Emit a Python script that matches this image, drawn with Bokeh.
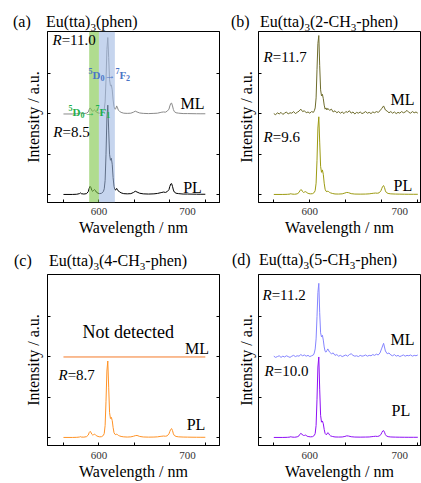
from bokeh.plotting import figure
from bokeh.models import Range1d, FixedTicker, LinearAxis, Label, BoxAnnotation, Div
from bokeh.layouts import column, row
from bokeh.embed import file_html
from bokeh.resources import INLINE
import numpy as np

# ---------------- data ----------------
# wavelength grid (nm) for the smooth spectra
WL = [560, 570, 575, 578, 579, 580, 583, 586, 588, 589,
      590, 591, 592, 593, 594, 595, 596, 597, 599, 601,
      603, 605, 606, 607, 608, 609, 610, 611, 612, 613,
      614, 615, 616, 617, 618, 619, 620, 621, 622, 623,
      625, 628, 632, 636, 639, 641, 643, 646, 650, 656,
      662, 666, 669, 671, 673, 675, 677, 679, 680, 681,
      682, 683, 684, 685, 687, 690, 695, 700, 705, 710,
      715, 720]

PL_A = [0.00, 0.00, 0.005, 0.02, 0.04, 0.02, 0.01, 0.02, 0.07, 0.15,
        0.20, 0.17, 0.10, 0.08, 0.10, 0.12, 0.10, 0.06, 0.03, 0.02,
        0.03, 0.07, 0.14, 0.35, 1.00, 1.90, 2.22, 1.60, 1.00, 0.85,
        0.90, 0.75, 0.42, 0.20, 0.12, 0.11, 0.15, 0.12, 0.08, 0.07,
        0.04, 0.02, 0.015, 0.02, 0.05, 0.08, 0.06, 0.03, 0.015, 0.01,
        0.015, 0.025, 0.04, 0.05, 0.06, 0.05, 0.07, 0.12, 0.20, 0.26,
        0.27, 0.20, 0.11, 0.06, 0.03, 0.02, 0.01, 0.01, 0.008, 0.006,
        0.005, 0.005]
ML_A = [0.00, 0.00, 0.005, 0.015, 0.03, 0.015, 0.01, 0.02, 0.05, 0.11,
        0.15, 0.13, 0.08, 0.07, 0.08, 0.10, 0.08, 0.05, 0.025, 0.02,
        0.03, 0.06, 0.12, 0.30, 0.85, 1.60, 1.90, 1.40, 0.85, 0.70,
        0.72, 0.60, 0.35, 0.18, 0.12, 0.13, 0.20, 0.15, 0.09, 0.07,
        0.04, 0.02, 0.015, 0.02, 0.045, 0.07, 0.05, 0.025, 0.015, 0.01,
        0.015, 0.02, 0.035, 0.045, 0.05, 0.045, 0.07, 0.12, 0.20, 0.26,
        0.27, 0.20, 0.11, 0.06, 0.03, 0.02, 0.01, 0.01, 0.008, 0.006,
        0.005, 0.005]
PL_B = [0.00, 0.00, 0.003, 0.01, 0.02, 0.01, 0.005, 0.015, 0.05, 0.09,
        0.12, 0.11, 0.07, 0.05, 0.06, 0.07, 0.06, 0.04, 0.02, 0.015,
        0.02, 0.05, 0.10, 0.28, 0.85, 1.65, 1.93, 1.30, 0.70, 0.55,
        0.61, 0.50, 0.28, 0.13, 0.08, 0.07, 0.08, 0.07, 0.05, 0.04,
        0.025, 0.012, 0.01, 0.015, 0.035, 0.05, 0.045, 0.02, 0.01, 0.008,
        0.01, 0.015, 0.025, 0.03, 0.035, 0.03, 0.04, 0.09, 0.15, 0.20,
        0.22, 0.17, 0.09, 0.05, 0.025, 0.015, 0.01, 0.008, 0.006, 0.005,
        0.004, 0.004]
PL_C = [0.00, 0.00, 0.003, 0.01, 0.02, 0.01, 0.008, 0.02, 0.06, 0.12,
        0.15, 0.13, 0.08, 0.06, 0.07, 0.08, 0.07, 0.045, 0.025, 0.015,
        0.02, 0.05, 0.10, 0.30, 0.90, 1.65, 1.90, 1.25, 0.62, 0.47,
        0.50, 0.42, 0.25, 0.12, 0.08, 0.07, 0.08, 0.07, 0.05, 0.04,
        0.025, 0.015, 0.01, 0.015, 0.03, 0.045, 0.05, 0.025, 0.012, 0.008,
        0.01, 0.015, 0.025, 0.03, 0.035, 0.03, 0.04, 0.09, 0.15, 0.20,
        0.22, 0.17, 0.09, 0.05, 0.025, 0.015, 0.01, 0.008, 0.006, 0.005,
        0.004, 0.004]
PL_D = [0.00, 0.00, 0.003, 0.01, 0.02, 0.01, 0.005, 0.015, 0.04, 0.08,
        0.10, 0.09, 0.06, 0.05, 0.05, 0.06, 0.05, 0.03, 0.02, 0.015,
        0.02, 0.05, 0.10, 0.30, 0.95, 1.75, 2.00, 1.20, 0.55, 0.38,
        0.41, 0.34, 0.20, 0.10, 0.07, 0.08, 0.12, 0.10, 0.06, 0.04,
        0.025, 0.012, 0.01, 0.012, 0.025, 0.04, 0.035, 0.018, 0.01, 0.008,
        0.01, 0.012, 0.02, 0.025, 0.03, 0.025, 0.035, 0.07, 0.12, 0.16,
        0.17, 0.13, 0.07, 0.04, 0.02, 0.012, 0.008, 0.006, 0.005, 0.004,
        0.004, 0.004]

# wavelength grid (nm) for the noisy ML spectra
WN = [560, 562, 564, 566, 568, 570, 572, 574, 576, 578, 580, 582, 584, 586, 588,
      590, 592, 594, 596, 598, 600, 602, 604,
      605, 606, 607, 608, 609, 610, 611, 612, 613, 614, 615, 616, 617, 618, 619, 620,
      622, 624, 626, 628, 630, 632, 634, 636, 638, 640,
      642, 644, 646, 648, 650, 652, 654, 656, 658, 660,
      662, 664, 666, 668, 670, 672, 674, 676, 678, 680,
      682, 684, 686, 688, 690, 692, 694, 696, 698, 700,
      702, 704, 706, 708, 710, 712, 714, 716, 718, 720]
ML_B = [0.01, -0.02, 0.03, 0.00, 0.04, -0.01, 0.02, 0.05, 0.00, 0.03, 0.02, 0.06, 0.01, 0.04, 0.07,
        0.12, 0.06, 0.08, 0.03, 0.05, 0.02, 0.06, 0.04,
        0.08, 0.15, 0.40, 1.10, 1.75, 1.95, 1.20, 0.60, 0.45, 0.49, 0.38, 0.22, 0.12, 0.15, 0.10, 0.14,
        0.09, 0.12, 0.05, 0.08, 0.03, 0.06, 0.02, 0.05, 0.01, 0.06,
        0.04, 0.08, 0.02, 0.05, 0.00, 0.04, 0.02, 0.05, 0.01, 0.03,
        0.06, 0.02, 0.04, 0.01, 0.05, 0.03, 0.06, 0.04, 0.08, 0.14,
        0.20, 0.10, 0.07, 0.03, 0.06, 0.02, 0.05, 0.01, 0.04, 0.02,
        0.06, 0.03, 0.05, 0.09, 0.04, 0.02, 0.06, 0.03, 0.05, 0.02]
ML_D = [0.02, -0.01, 0.01, 0.03, -0.01, 0.02, 0.00, 0.03, 0.01, -0.01, 0.02, 0.04, 0.01, 0.03, 0.02,
        0.06, 0.03, 0.05, 0.02, 0.04, 0.01, 0.03, 0.05,
        0.10, 0.20, 0.45, 1.00, 1.60, 1.83, 1.10, 0.60, 0.50, 0.54, 0.42, 0.25, 0.14, 0.12, 0.16, 0.20,
        0.12, 0.08, 0.10, 0.04, 0.06, 0.02, 0.04, 0.01, 0.03, 0.05,
        0.02, 0.06, 0.08, 0.04, 0.02, 0.03, 0.01, 0.04, 0.02, 0.03,
        0.05, 0.02, 0.04, 0.03, 0.06, 0.04, 0.07, 0.05, 0.10, 0.22,
        0.34, 0.15, 0.08, 0.10, 0.05, 0.03, 0.06, 0.02, 0.04, 0.01,
        0.03, 0.05, 0.02, 0.04, 0.03, 0.05, 0.02, 0.04, 0.03, 0.05]
# (c) ML: not detected -> flat line
WL_C_ML = [560, 720]
ML_C = [0.0, 0.0]

ML_OFFSET = 2.0
BAND_F1 = [589, 600]   # 5D0 -> 7F1
BAND_F2 = [600, 618]   # 5D0 -> 7F2

X_LABELED = [600, 700]
X_TICKS = [560, 600, 640, 680, 720]
Y_TICKS = [0, 1, 2, 3]

LETTERS = ["(a)", "(b)", "(c)", "(d)"]
LIGANDS = [("(phen)", None, None), ("(2-CH", "3", "-phen)"),
           ("(4-CH", "3", "-phen)"), ("(5-CH", "3", "-phen)")]
R_VALUES = {"a": ("11.0", "8.5"), "b": ("11.7", "9.6"), "c": (None, "8.7"), "d": ("11.2", "10.0")}

FONT = "Liberation Serif"

# ---------------- text helpers ----------------
W_REG = {'(': .333, ')': .333, 'a': .444, 'c': .444, 'd': .5, 'e': .444, 'h': .5, 'n': .5,
         'p': .5, 't': .278, 'u': .5, 'E': .611, 'C': .667, 'H': .722, '-': .333, '=': .564,
         '.': .25, ' ': .25, 'R': .611, 'D': .722, 'F': .611, '\u2192': 1.0}


def twidth(t, size):
    return sum(W_REG.get(ch, 0.5) for ch in t) * size


def rich(p, x, y, pieces, xo=0.0, yo=0.0, color="black"):
    cx = xo
    for t, sz, dy, st in pieces:
        p.add_layout(Label(x=x, y=y, x_offset=cx, y_offset=yo + dy, text=t,
                           text_font=FONT, text_font_size=f"{sz}px", text_font_style=st,
                           text_color=color, text_baseline="alphabetic", text_align="left"))
        cx += twidth(t, sz)


def txt(p, x, y, t, size=16, color="black", style="normal"):
    p.add_layout(Label(x=x, y=y, text=t, text_font=FONT, text_font_size=f"{size}px",
                       text_font_style=style, text_color=color, text_baseline="alphabetic",
                       text_align="left"))


def rlabel(p, x, y, val):
    rich(p, x, y, [("R", 15, 0, "italic"), ("=" + val, 15, 0, "normal")])


def title_div(idx, width, height, letter_left, title_left, top):
    pre, sub, post = LIGANDS[idx]
    sub_html = '<span style="font-size:11px;position:relative;top:4px;">{}</span>'
    body = "Eu(tta)" + sub_html.format("3") + pre
    if sub is not None:
        body += sub_html.format(sub) + post
    html = (
        f'<div style="position:relative;width:{width}px;height:{height}px;'
        f'font-family:\'Liberation Serif\';font-size:16px;line-height:16px;color:black;'
        f'white-space:nowrap;">'
        f'<span style="position:absolute;left:{letter_left}px;top:{top}px;">{LETTERS[idx]}</span>'
        f'<span style="position:absolute;left:{title_left}px;top:{top}px;">{body}</span>'
        f'</div>'
    )
    return Div(text=html, width=width, height=height, margin=(0, 0, 0, 0))


# ---------------- figures ----------------
FH = 171
YR = (-0.2, 4.05)


def make_fig(xr, left, right, top, bottom, fw, right_axis, ylab_standoff, xlab_standoff):
    p = figure(frame_width=fw, frame_height=FH, title=None,
               x_range=Range1d(*xr), y_range=Range1d(*YR),
               toolbar_location=None, output_backend="svg",
               min_border_left=left, min_border_right=right,
               min_border_top=top, min_border_bottom=bottom)
    p.margin = (0, 0, 0, 0)
    p.grid.visible = False
    p.outline_line_color = "black"
    p.outline_line_alpha = 1.0
    p.outline_line_width = 1
    p.background_fill_color = "white"
    p.border_fill_color = "white"

    xa = p.xaxis[0]
    xa.ticker = FixedTicker(ticks=X_LABELED, minor_ticks=X_TICKS)
    xa.major_tick_line_color = None
    xa.major_tick_in = 0
    xa.major_tick_out = 0
    xa.minor_tick_in = 3
    xa.minor_tick_out = 0
    xa.minor_tick_line_color = "black"
    xa.axis_line_color = "black"
    xa.major_label_text_font = FONT
    xa.major_label_text_font_size = "11px"
    xa.major_label_text_color = "#333333"
    xa.major_label_standoff = xlab_standoff
    xa.axis_label = "Wavelength / nm"
    xa.axis_label_text_font = FONT
    xa.axis_label_text_font_size = "16px"
    xa.axis_label_text_font_style = "normal"
    xa.axis_label_text_color = "black"
    xa.axis_label_standoff = 1

    ya = p.yaxis[0]
    ya.ticker = FixedTicker(ticks=[], minor_ticks=Y_TICKS)
    ya.major_tick_line_color = None
    ya.major_tick_in = 0
    ya.major_tick_out = 0
    ya.minor_tick_in = 3
    ya.minor_tick_out = 0
    ya.minor_tick_line_color = "black"
    ya.axis_line_color = "black"
    ya.major_label_standoff = 0
    ya.axis_label = "Intensity / a.u."
    ya.axis_label_text_font = FONT
    ya.axis_label_text_font_size = "16px"
    ya.axis_label_text_font_style = "normal"
    ya.axis_label_text_color = "black"
    ya.axis_label_standoff = ylab_standoff

    if right_axis:
        ra = LinearAxis(ticker=FixedTicker(ticks=[], minor_ticks=Y_TICKS),
                        major_tick_line_color=None, major_tick_in=0, major_tick_out=0,
                        minor_tick_in=3, minor_tick_out=0,
                        minor_tick_line_color="black", axis_line_color="black",
                        major_label_standoff=0)
        p.add_layout(ra, "right")
    return p


XL = (542, 736)
XR = (543, 723)

W1 = 229   # left column width  (47 + 172 + 10)
W2 = 192   # right column width (29 + 162 + 1)

pa = make_fig(XL, 47, 10, 1, 36, 172, True, 6, 5)
pb = make_fig(XR, 29, 1, 1, 36, 162, False, 4, 5)
pc = make_fig(XL, 47, 10, 5, 37, 172, True, 6, 6)
pd = make_fig(XR, 29, 1, 5, 37, 162, False, 4, 6)

da = title_div(0, W1, 30, 13, 46, 14)
db = title_div(1, W2, 30, 2, 31, 14)
dc = title_div(2, W1, 31, 14, 49, 15)
dd = title_div(3, W2, 31, 3, 30, 14)

wl = np.array(WL)
wn = np.array(WN)

# spectra
pa.line(wl, np.array(ML_A) + ML_OFFSET, line_color="#8a8a8a", line_width=1)
pa.line(wl, np.array(PL_A), line_color="black", line_width=1)
pb.line(wn, np.array(ML_B) + ML_OFFSET, line_color="#6e6c2c", line_width=1)
pb.line(wl, np.array(PL_B), line_color="#9d9b12", line_width=1)
pc.line(np.array(WL_C_ML), np.array(ML_C) + ML_OFFSET, line_color="#f47a28", line_width=1)
pc.line(wl, np.array(PL_C), line_color="#ff9326", line_width=1)
pd.line(wn, np.array(ML_D) + ML_OFFSET, line_color="#8585ff", line_width=1)
pd.line(wl, np.array(PL_D), line_color="#8f10f5", line_width=1)

# (a) shaded transition bands (drawn over the traces, semi-transparent)
pa.add_layout(BoxAnnotation(left=BAND_F1[0], right=BAND_F1[1], fill_color="#7cc544",
                            fill_alpha=0.6, line_color=None))
pa.add_layout(BoxAnnotation(left=BAND_F2[0], right=BAND_F2[1], fill_color="#a0b9e3",
                            fill_alpha=0.6, line_color=None))

# in-plot labels
rlabel(pa, 547.6, 3.83, R_VALUES["a"][0])
rlabel(pa, 548.5, 1.56, R_VALUES["a"][1])
txt(pa, 692, 2.27, "ML")
txt(pa, 695, 0.17, "PL")
rich(pa, 588.2, 2.96, [("5", 8, 4, "bold"), ("D", 11, 0, "bold"), ("0", 8, -3, "bold"),
                        ("\u2192", 11, 0, "bold"), ("7", 8, 4, "bold"), ("F", 11, 0, "bold"),
                        ("2", 8, -3, "bold")], color="#4a74c6")
rich(pa, 565.7, 2.05, [("5", 8, 4, "bold"), ("D", 11, 0, "bold"), ("0", 8, -3, "bold"),
                        ("\u2192", 11, 0, "bold"), ("7", 8, 4, "bold"), ("F", 11, 0, "bold"),
                        ("1", 8, -3, "bold")], color="#1fb04c")

rlabel(pb, 548.6, 3.41, R_VALUES["b"][0])
rlabel(pb, 548.6, 1.44, R_VALUES["b"][1])
txt(pb, 689.7, 2.37, "ML")
txt(pb, 693, 0.22, "PL")

txt(pc, 581.5, 2.63, "Not detected", size=18)
txt(pc, 697, 2.22, "ML")
rlabel(pc, 554.4, 1.54, R_VALUES["c"][1])
txt(pc, 699, 0.32, "PL")

rlabel(pd, 547.4, 3.54, R_VALUES["d"][0])
rlabel(pd, 549.7, 1.66, R_VALUES["d"][1])
txt(pd, 689.7, 2.44, "ML")
txt(pd, 690.8, 0.68, "PL")

layout = column(row(da, db), row(pa, pb), row(dc, dd), row(pc, pd))
open("out.html", "w").write(file_html(layout, INLINE))
